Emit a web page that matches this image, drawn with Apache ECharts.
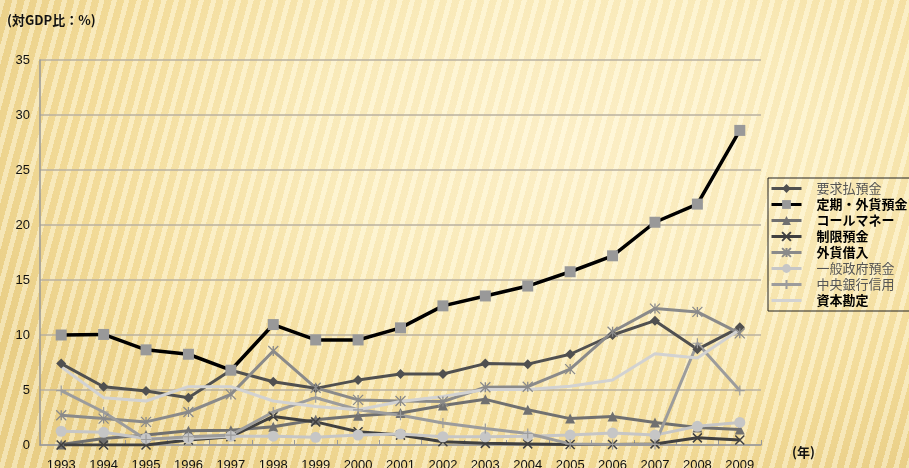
<!DOCTYPE html>
<html><head><meta charset="utf-8">
<script src="https://cdn.jsdelivr.net/npm/echarts@6/dist/echarts.min.js"></script>
<style>
html,body{margin:0;padding:0;width:909px;height:468px;overflow:hidden;}
body{
background:
 repeating-linear-gradient(105deg, rgba(255,250,225,0.45) 0px, rgba(255,250,225,0.45) 5px, rgba(220,185,90,0.10) 5px, rgba(220,185,90,0.10) 12px),
 radial-gradient(ellipse 70% 85% at 62% 30%, #fff4d2 0%, #fcefc3 40%, #f5dfa0 75%, #ead08a 100%);
}
#c{width:909px;height:468px;}
</style></head>
<body><div id="c"></div>
<script>
const years = ['1993','1994','1995','1996','1997','1998','1999','2000','2001','2002','2003','2004','2005','2006','2007','2008','2009'];
const demandDeposits = [7.4,5.3,4.9,4.3,6.8,5.75,5.15,5.9,6.45,6.45,7.4,7.35,8.25,10.0,11.3,8.7,10.7];
const timeFxDeposits = [10.0,10.05,8.65,8.25,6.8,10.95,9.55,9.55,10.65,12.65,13.55,14.45,15.75,17.2,20.25,21.9,28.6];
const callMoney = [0.05,0.6,0.9,1.3,1.35,1.65,2.3,2.65,2.9,3.6,4.15,3.2,2.4,2.6,2.05,1.6,1.4];
const restrictedDeposits = [0,0,0,0.45,0.75,2.6,2.1,1.2,0.9,0.3,0.15,0.1,0.05,0.05,0.1,0.65,0.45];
const fxBorrowing = [2.7,2.4,2.1,3.0,4.6,8.55,5.2,4.1,4.0,3.95,5.25,5.3,6.9,10.3,12.4,12.1,10.15];
const govDeposits = [1.25,1.15,0.6,0.6,0.8,0.8,0.7,0.9,1.0,0.75,0.75,0.8,0.9,1.1,0.9,1.7,2.05];
const centralBankCredit = [4.95,3.0,0.5,0.75,0.9,3.0,4.3,3.2,2.7,2.0,1.5,1.05,0.1,0.05,0.05,9.25,4.95];
const capitalAccount = [7.1,4.3,4.0,5.3,5.3,4.0,3.5,3.2,3.95,4.4,5.05,5.05,5.35,5.9,8.3,7.9,10.5];
const yTicks = [0,5,10,15,20,25,30,35];
const names = ['要求払預金','定期・外貨預金','コールマネー','制限預金','外貨借入','一般政府預金','中央銀行信用','資本勘定'];

const X = 'path://M0,0L10,10M10,0L0,10';
const AST = 'path://M0,0L10,10M10,0L0,10M5,0L5,10';
const PLUS = 'path://M5,0L5,10M0,5L10,5';

function mk(name, data, lineColor, lw, symbol, size, symColor, stroke){
  const s = {
    name: name, type: 'line', data: data,
    symbol: symbol, symbolSize: size, showSymbol: symbol !== 'none',
    lineStyle: {color: lineColor, width: lw},
    itemStyle: {color: symColor},
    emphasis: {disabled: true},
    animation: false
  };
  if (stroke) s.itemStyle = {color: symColor, borderColor: symColor, borderWidth: stroke};
  return s;
}

const series = [
  mk(names[0], demandDeposits, '#505050', 3, 'diamond', 10, '#505050'),
  mk(names[2], callMoney, '#707070', 3, 'triangle', 10, '#707070'),
  mk(names[3], restrictedDeposits, '#404040', 3, X, 9, '#404040', 1.5),
  mk(names[4], fxBorrowing, '#8a8a8a', 3, AST, 10, '#8a8a8a', 1.3),
  mk(names[5], govDeposits, '#c6c6c6', 3, 'circle', 11, '#c6c6c6'),
  mk(names[6], centralBankCredit, '#9c9c9c', 3, PLUS, 10, '#9c9c9c', 1.2),
  mk(names[7], capitalAccount, '#d2d2d2', 3, 'none', 0, '#d2d2d2'),
  mk(names[1], timeFxDeposits, '#000000', 3.5, 'rect', 11, '#999999')
];

const boldNames = {'定期・外貨預金':1,'コールマネー':1,'制限預金':1,'外貨借入':1,'資本勘定':1};
const legendData = names.map(n => {
  const d = {
    name: n,
    textStyle: boldNames[n] ? {fontWeight: 'bold', color: '#000'} : {fontWeight: 'normal', color: '#555'}
  };
  if (n === '資本勘定') { d.icon = 'path://M0,0L30,0L30,3L0,3Z'; d.itemStyle = {color: '#d2d2d2'}; }
  return d;
});

const chart = echarts.init(document.getElementById('c'), null, {renderer: 'canvas'});
chart.setOption({
  backgroundColor: 'transparent',
  animation: false,
  textStyle: {fontFamily: '"Liberation Sans", Arial, sans-serif'},
  grid: {left: 40, right: 148, top: 60, bottom: 23, containLabel: false, outerBoundsMode: 'none'},
  graphic: [
    {type: 'text', left: 7, top: 14, style: {text: '(対GDP比：%)', font: 'bold 13px "Noto Sans CJK JP"', fill: '#111'}},
    {type: 'text', left: 792, top: 446, style: {text: '(年)', font: 'bold 13px "Noto Sans CJK JP"', fill: '#111'}}
  ],
  xAxis: {
    type: 'category', data: years, boundaryGap: true,
    axisLine: {lineStyle: {color: '#999', width: 1.5}},
    axisTick: {show: true, inside: true, length: 5, lineStyle: {color: '#999'}},
    axisLabel: {color: '#111', fontSize: 13, margin: 14, interval: 0, fontFamily: '"Liberation Sans", Arial, sans-serif'},
    splitLine: {show: false}
  },
  yAxis: {
    type: 'value', min: 0, max: 35, interval: 5,
    axisLine: {show: true, lineStyle: {color: '#999', width: 1.5}},
    axisTick: {show: false},
    axisLabel: {color: '#111', fontSize: 13, margin: 10, fontFamily: '"Liberation Sans", Arial, sans-serif',
      formatter: v => yTicks.indexOf(v) >= 0 ? String(v) : ''},
    splitLine: {show: true, lineStyle: {color: '#b8b0a0', width: 1.5}}
  },
  legend: {
    orient: 'vertical', left: 768, top: 178,
    itemWidth: 30, itemHeight: 11, itemGap: 3,
    padding: [4, 6, 4, 2],
    borderColor: '#222', borderWidth: 1,
    lineStyle: {width: 3},
    data: legendData,
    textStyle: {fontSize: 13, lineHeight: 13, fontFamily: '"Noto Sans CJK JP", sans-serif', padding: [0, 0, 0, 10]}
  },
  series: series
});
</script>
</body></html>
